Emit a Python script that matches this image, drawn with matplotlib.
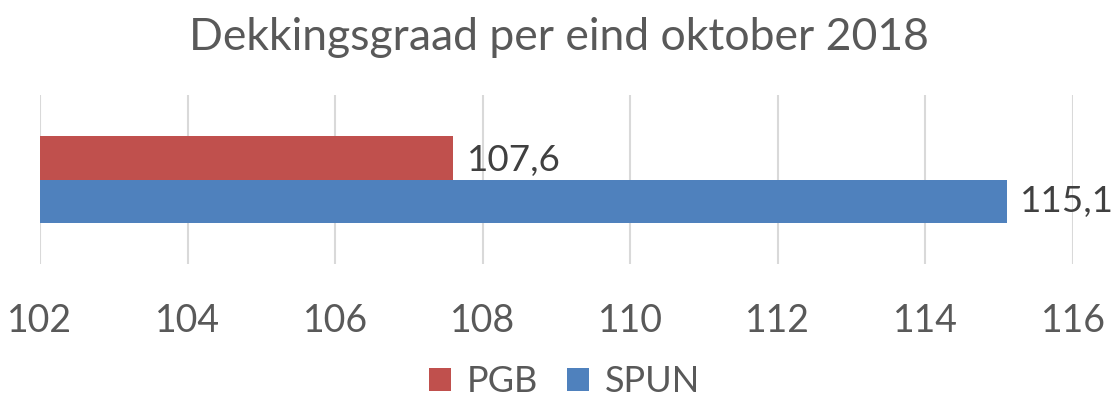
import matplotlib
matplotlib.use("Agg")
import matplotlib.pyplot as plt
from matplotlib.patches import Patch

title = "Dekkingsgraad per eind oktober 2018"
series = ["PGB", "SPUN"]
values = [107.6, 115.1]
labels = ["107,6", "115,1"]
colors = ["#C0504D", "#4F81BD"]
xticks = [102, 104, 106, 108, 110, 112, 114, 116]

plt.rcParams['font.family'] = ['Lato', 'DejaVu Sans']

fig = plt.figure(figsize=(11.18, 4.04), dpi=100)
ax = fig.add_axes([40/1118, 1-264/404, (1073-40)/1118, 169/404])

h = 0.52
base = 102
offsets = [h/2, -h/2]
for v, lab, c, off in zip(values, labels, colors, offsets):
    ax.barh(off, v - base, left=base, height=h, color=c, zorder=3)
    ax.text(v + 0.18, off - 0.03 if off > 0 else off, lab, va='center', ha='left',
            fontsize=26.5, color='#404040')

ax.set_xlim(102, 116)
ax.set_ylim(-1, 1)
ax.set_xticks(xticks)
ax.set_xticklabels([str(t) for t in xticks], fontsize=27, color='#595959')
ax.set_yticks([])
ax.tick_params(axis='x', length=0, pad=28)
ax.grid(axis='x', color='#D9D9D9', linewidth=1.5, zorder=0)
for s in ax.spines.values():
    s.set_visible(False)

fig.suptitle(title, y=1-38/404, va='center', fontsize=32, color='#595959')

handles = [Patch(facecolor=c, label=s) for s, c in zip(series, colors)]
fig.legend(handles=handles, loc='center', bbox_to_anchor=(0.505, 1-382/404), ncol=2,
           frameon=False, fontsize=26, labelcolor='#595959', handlelength=0.6,
           handleheight=0.6, handletextpad=0.45, columnspacing=0.8)

fig.savefig("out.png", dpi=100)
